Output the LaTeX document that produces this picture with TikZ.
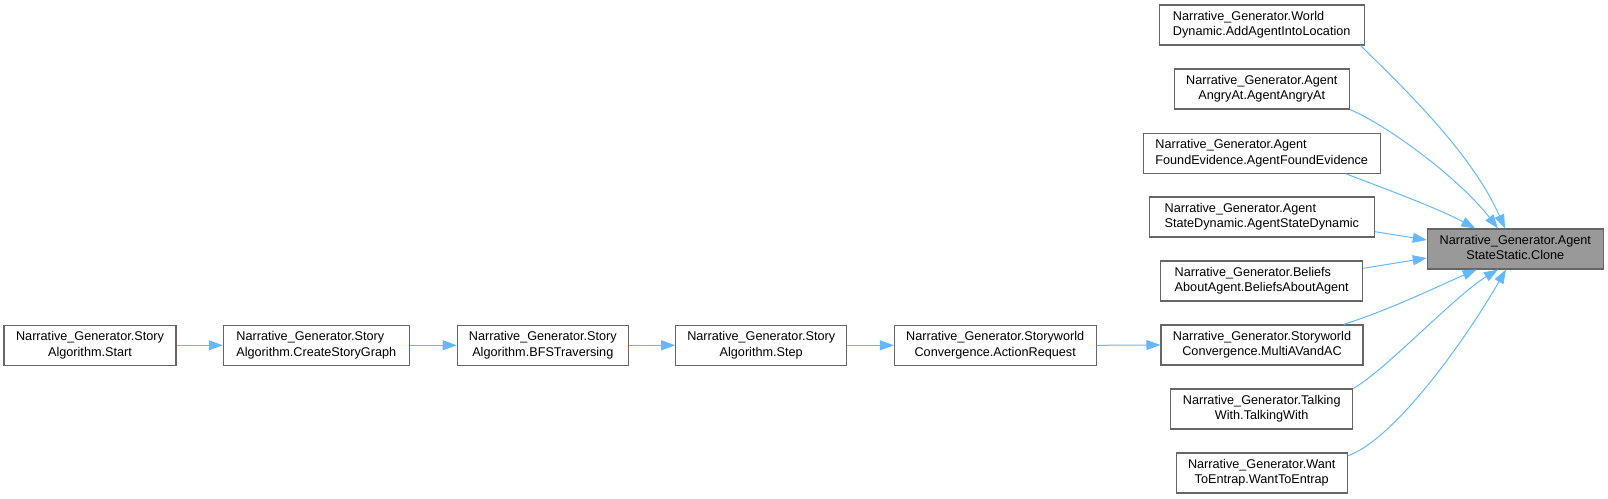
\documentclass[tikz,border=0pt]{standalone}
\usepackage{fontspec}
\setmainfont{Liberation Sans}
\usetikzlibrary{positioning, arrows.meta}
\definecolor{boxgray}{HTML}{666666}
\definecolor{clonegray}{HTML}{999999}
\definecolor{edgeblue}{HTML}{63B8FF}
% first line flush left, second line centred (as doxygen sets them)
\newcommand{\fnlabel}[2]{\begin{tabular}{@{}l@{}}#1\\\multicolumn{1}{@{}c@{}}{#2}\end{tabular}}

\begin{document}
\begin{tikzpicture}[
    x=0.75pt, y=-0.75pt,
    font=\fontsize{9.5}{11.5}\selectfont,
    % Styles
    fnbox/.style={rectangle, draw=boxgray, line width=0.8pt, fill=white, minimum height=30pt, inner sep=0pt, align=center},
    current/.style={fill=clonegray},
    callarrow/.style={-{Triangle[length=10.5pt, width=7.5pt]}, line width=0.75pt, edgeblue}
]
\useasboundingbox (0,0) rectangle (1608,499);

% ==================== CALLED FUNCTION ====================
\node[fnbox, current, minimum width=132pt] (clone) at (1515.3, 249) {\fnlabel{Narrative\_Generator.Agent}{StateStatic.Clone}};

% ==================== DIRECT CALLERS ====================
\node[fnbox, minimum width=153.5pt] (world) at (1261.7, 25) {\fnlabel{Narrative\_Generator.World}{Dynamic.AddAgentIntoLocation}};
\node[fnbox, minimum width=131.3pt] (angry) at (1261.8, 89) {\fnlabel{Narrative\_Generator.Agent}{AngryAt.AgentAngryAt}};
\node[fnbox, minimum width=177.5pt] (found) at (1261.7, 153.3) {\fnlabel{Narrative\_Generator.Agent}{FoundEvidence.AgentFoundEvidence}};
\node[fnbox, minimum width=168.8pt] (statedyn) at (1261.8, 217) {\fnlabel{Narrative\_Generator.Agent}{StateDynamic.AgentStateDynamic}};
\node[fnbox, minimum width=151.5pt] (beliefs) at (1261.7, 281) {\fnlabel{Narrative\_Generator.Beliefs}{AboutAgent.BeliefsAboutAgent}};
\node[fnbox, minimum width=151.5pt] (multi) at (1262, 345) {\fnlabel{Narrative\_Generator.Storyworld}{Convergence.MultiAVandAC}};
\node[fnbox, minimum width=136.5pt] (talking) at (1261.7, 409) {\fnlabel{Narrative\_Generator.Talking}{With.TalkingWith}};
\node[fnbox, minimum width=128.5pt] (entrap) at (1261.7, 473) {\fnlabel{Narrative\_Generator.Want}{ToEntrap.WantToEntrap}};

% ==================== CALL CHAIN ====================
\node[fnbox, minimum width=129pt] (algstart) at (90, 345.3) {\fnlabel{Narrative\_Generator.Story}{Algorithm.Start}};
\node[fnbox, minimum width=139.5pt] (algcreate) at (316.3, 345.3) {\fnlabel{Narrative\_Generator.Story}{Algorithm.CreateStoryGraph}};
\node[fnbox, minimum width=128.3pt] (algbfs) at (542.8, 345.3) {\fnlabel{Narrative\_Generator.Story}{Algorithm.BFSTraversing}};
\node[fnbox, minimum width=128.3pt] (algstep) at (761.2, 345.3) {\fnlabel{Narrative\_Generator.Story}{Algorithm.Step}};
\node[fnbox, minimum width=151.3pt] (actionreq) at (995.2, 345.3) {\fnlabel{Narrative\_Generator.Storyworld}{Convergence.ActionRequest}};

\draw[callarrow] (algstart.east) -- (algcreate.west);
\draw[callarrow] (algcreate.east) -- (algbfs.west);
\draw[callarrow] (algbfs.east) -- (algstep.west);
\draw[callarrow] (algstep.east) -- (actionreq.west);
\draw[callarrow] (actionreq.east) -- (multi.west);

% Callers into Clone
\draw[callarrow] ([xshift=-3pt]world.south east) .. controls +(35,35) and +(-35,-79) .. ([xshift=-7.7pt]clone.north);
\draw[callarrow] (angry.south east) .. controls +(40,17) and +(-38,-49) .. ([xshift=-13pt]clone.north);
\draw[callarrow] ([xshift=-26pt]found.south east) .. controls +(45,17) and +(-35,-19) .. ([xshift=-30pt]clone.north);
\draw[callarrow] ([yshift=-11pt]statedyn.east) -- ([yshift=6.75pt]clone.west);
\draw[callarrow] ([yshift=9.5pt]beliefs.east) -- ([yshift=-6.75pt]clone.west);
\draw[callarrow] ([xshift=-15pt]multi.north east) .. controls +(47,-15) and +(-37,16) .. ([xshift=-29pt]clone.south);
\draw[callarrow] (talking.north east) .. controls +(32,-18) and +(-43,26) .. ([xshift=-13pt]clone.south);
\draw[callarrow] ([yshift=-2.5pt]entrap.north east) .. controls +(47,-17) and +(-41,71) .. ([xshift=-7pt]clone.south);

\end{tikzpicture}
\end{document}
